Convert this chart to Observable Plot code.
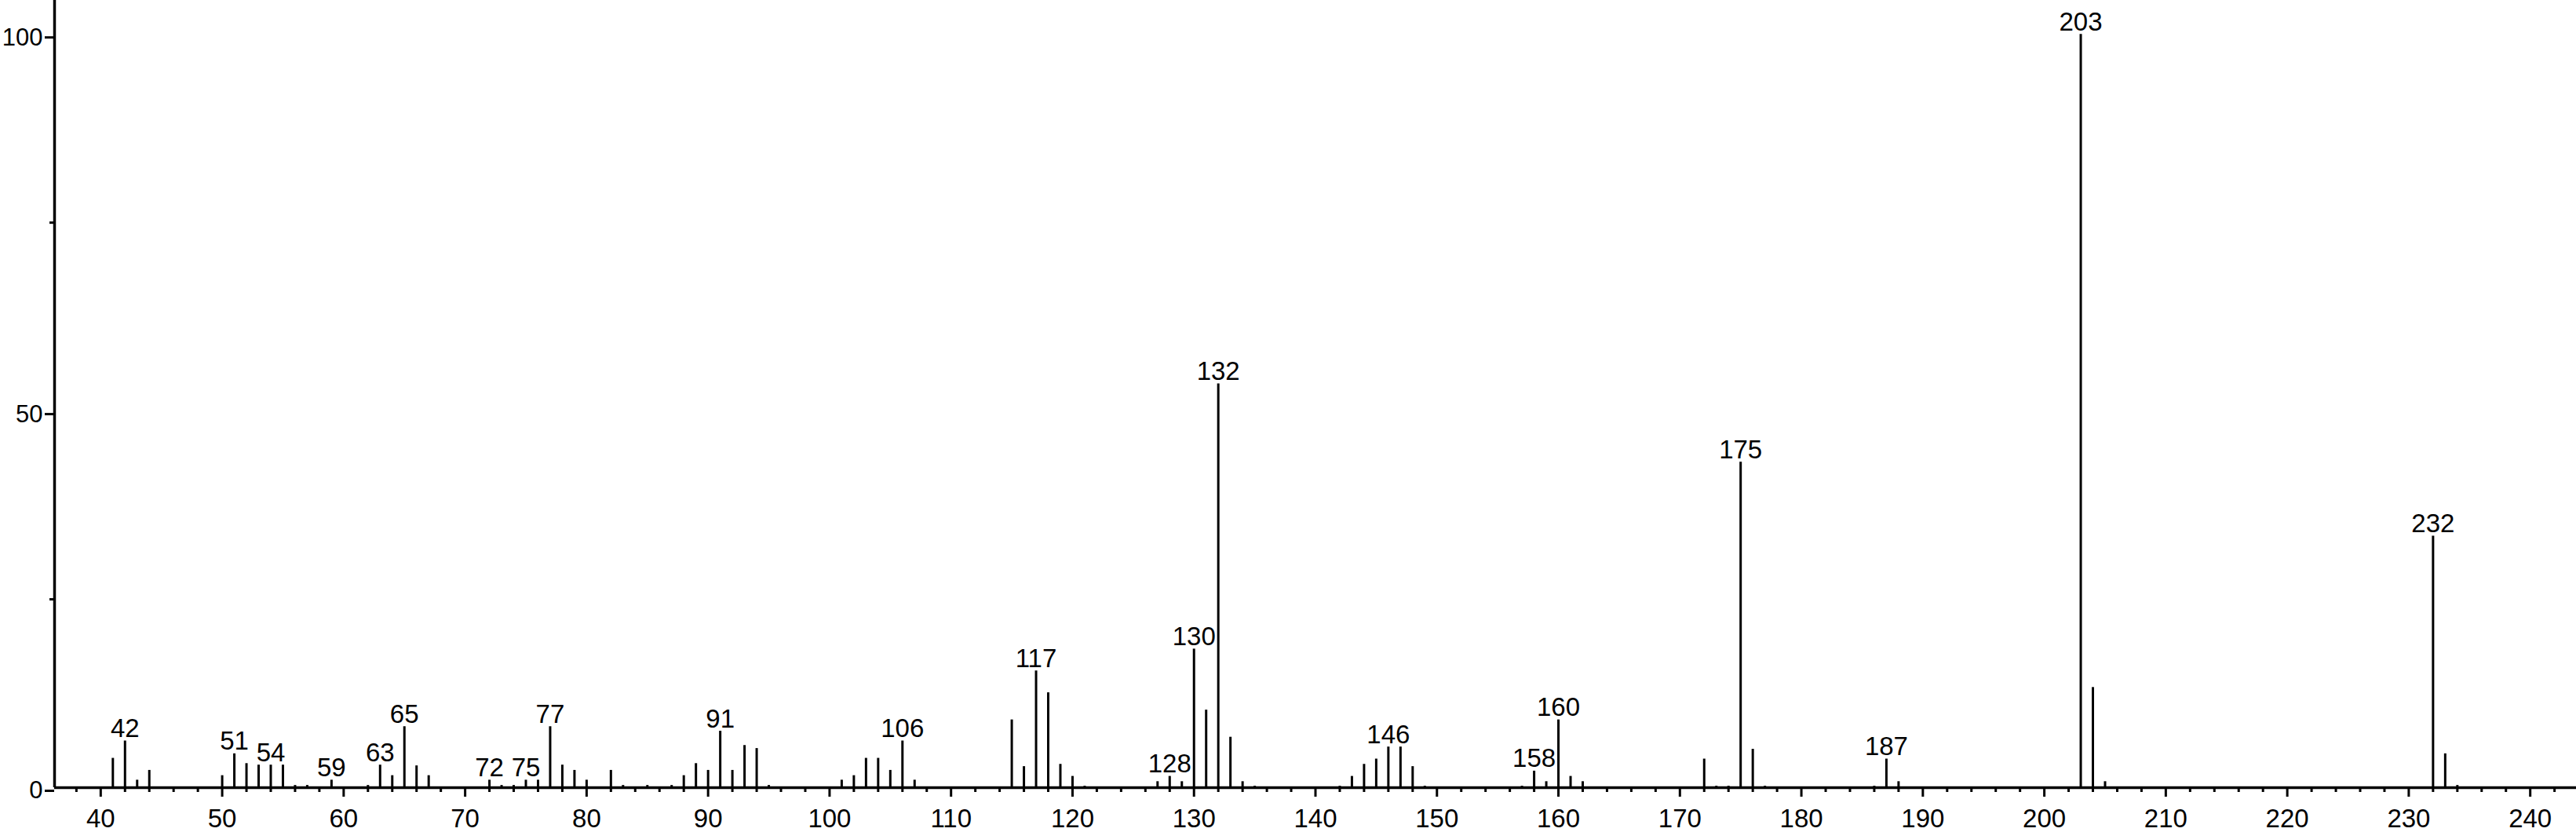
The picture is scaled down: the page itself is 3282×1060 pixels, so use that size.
<!DOCTYPE html>
<html>
<head>
<meta charset="utf-8">
<script src="https://cdn.jsdelivr.net/npm/d3@7"></script>
<script src="https://cdn.jsdelivr.net/npm/@observablehq/plot@0.6"></script>
<style>
  html, body { margin: 0; padding: 0; background: #fff; }
  #chart svg { display: block; }
</style>
</head>
<body>
<div id="chart"></div>
<script>
// m/z values of the spectrum peaks
const mz = [41,42,43,44,50,51,52,53,54,55,56,57,59,62,63,64,65,66,67,72,73,74,75,76,77,78,79,80,82,83,85,87,88,89,90,91,92,93,94,95,101,102,103,104,105,106,107,115,116,117,118,119,120,121,127,128,129,130,131,132,133,134,135,142,143,144,145,146,147,148,149,157,158,159,160,161,162,172,173,174,175,176,177,186,187,188,203,204,205,232,233,234];
// relative intensities (%)
const intensity = [3.9,6.2,1.0,2.3,1.6,4.5,3.2,3.0,3.0,3.0,0.3,0.3,1.0,0.3,3.0,1.6,8.1,2.9,1.6,1.0,0.3,0.3,1.0,1.0,8.1,3.0,2.3,1.0,2.3,0.3,0.3,0.3,1.6,3.2,2.3,7.5,2.3,5.6,5.2,0.3,1.0,1.6,3.9,3.9,2.3,6.2,1.0,9.0,2.8,15.5,12.6,3.1,1.5,0.2,0.8,1.5,0.8,18.4,10.3,53.6,6.7,0.8,0.2,0.2,1.5,3.1,3.8,5.4,5.4,2.8,0.2,0.2,2.2,0.8,9.0,1.5,0.8,3.8,0.2,0.2,43.2,5.1,0.2,0.2,3.8,0.8,100,13.3,0.8,33.4,4.5,0.3];
// peaks that carry an m/z label
const labeled = [42,51,54,59,63,65,72,75,77,91,106,117,128,130,132,146,158,160,175,187,203,232];
// axis ticks
const xMajorTicks = [40,50,60,70,80,90,100,110,120,130,140,150,160,170,180,190,200,210,220,230,240];
const xMinorTicks = d3.range(38, 244, 2).filter(v => v % 10 !== 0);
const yMajorTicks = [0, 50, 100];
const yMinorTicks = [25, 75];

const peaks = mz.map((m, i) => ({mz: m, intensity: intensity[i]}));
const labelRows = peaks.filter(d => labeled.includes(d.mz));

const xDomain = [36.2, 243.8];

const chart = Plot.plot({
  width: 3282,
  height: 1060,
  marginLeft: 69,
  marginRight: 0,
  marginTop: 0,
  marginBottom: 57,
  x: {domain: xDomain},
  y: {domain: [0, 104.5]},
  style: {
    fontFamily: "'Liberation Sans', Arial, Helvetica, sans-serif",
    fontSize: "33px",
    background: "#fff",
    color: "#000"
  },
  marks: [
    Plot.ruleX(peaks, {x: "mz", y1: 0, y2: "intensity", stroke: "#000", strokeWidth: 3}),
    Plot.text(labelRows, {x: "mz", y: "intensity", text: d => String(d.mz), lineAnchor: "bottom", dy: -5, fill: "#000", fontSize: 33}),
    Plot.ruleY([0], {stroke: "#000", strokeWidth: 3.5}),
    Plot.ruleX([xDomain[0]], {stroke: "#000", strokeWidth: 3.5}),
    Plot.axisX({ticks: xMajorTicks, tickFormat: d => String(d), tickSize: 12, tickPadding: 15, strokeWidth: 3, label: null, fontSize: 33}),
    Plot.axisX({ticks: xMinorTicks, tickFormat: null, text: null, tickSize: 6, strokeWidth: 3, label: null}),
    Plot.axisY({ticks: yMajorTicks, tickFormat: d => String(d), tickSize: 12, tickPadding: 3, strokeWidth: 3, label: null, dy: 4, fontSize: 31}),
    Plot.axisY({ticks: yMinorTicks, text: null, tickSize: 6, strokeWidth: 3, label: null})
  ]
});
document.getElementById("chart").appendChild(chart);
</script>
</body>
</html>
